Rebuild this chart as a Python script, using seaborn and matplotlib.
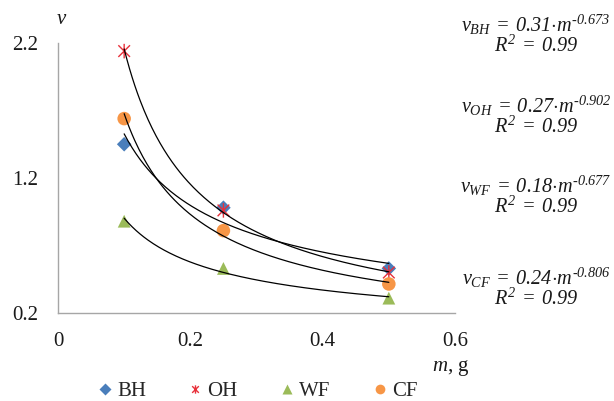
import numpy as np
import pandas as pd
import matplotlib
matplotlib.use("Agg")
import matplotlib.pyplot as plt
from matplotlib.path import Path
from matplotlib.lines import Line2D
import seaborn as sns

# Measured specific values at each sample mass
mass = [0.1, 0.25, 0.5]
series = ["BH", "OH", "WF", "CF"]
v_bh = [1.45, 0.98, 0.53]
v_oh = [2.14, 0.96, 0.50]
v_wf = [0.88, 0.53, 0.31]
v_cf = [1.64, 0.81, 0.415]

# Power-law fit equations shown beside the plot
eq_coef = ["0.31", "0.27", "0.18", "0.24"]
eq_exp = ["-0.673", "-0.902", "-0.677", "-0.806"]
eq_r2 = ["0.99", "0.99", "0.99", "0.99"]

x_ticks = [0, 0.2, 0.4, 0.6]
x_tick_labels = ["0", "0.2", "0.4", "0.6"]
y_ticks = [0.2, 1.2, 2.2]
y_tick_labels = ["0.2", "1.2", "2.2"]

sns.set_theme(style="white")
plt.rcParams["font.family"] = ["Liberation Serif", "DejaVu Serif"]
plt.rcParams["mathtext.fontset"] = "custom"
plt.rcParams["mathtext.rm"] = "Liberation Serif:italic"
plt.rcParams["mathtext.it"] = "Liberation Serif:italic"
plt.rcParams["mathtext.bf"] = "Liberation Serif:bold:italic"

TXT = "#1a1a1a"
W, H = 614, 401
fig = plt.figure(figsize=(W / 100, H / 100), dpi=100)
ax = fig.add_axes([58 / W, 1 - 313 / H, (455 - 58) / W, (313 - 43) / H])

# asterisk marker: an x crossed by a vertical stroke
star = Path(
    [(-1, -1), (1, 1), (-1, 1), (1, -1), (0, -1.25), (0, 1.25)],
    [Path.MOVETO, Path.LINETO, Path.MOVETO, Path.LINETO, Path.MOVETO, Path.LINETO],
)

values = {"BH": v_bh, "OH": v_oh, "WF": v_wf, "CF": v_cf}
colors = {"BH": "#4A7EBB", "OH": "#E8303A", "WF": "#9BBB59", "CF": "#F79646"}
markers = {"BH": "D", "OH": star, "WF": "^", "CF": "o"}
sizes = {"BH": 55, "OH": 110, "WF": 85, "CF": 95}

# power-law trend lines fitted in log-log space
for name in series:
    b, ln_a = np.polyfit(np.log(mass), np.log(values[name]), 1)
    xs = np.linspace(mass[0], mass[-1], 200)
    fit = pd.DataFrame({"m": xs, "v": np.exp(ln_a) * xs ** b})
    sns.lineplot(data=fit, x="m", y="v", ax=ax, color="black", lw=0.9, zorder=3)

for name in series:
    df = pd.DataFrame({"m": mass, "v": values[name]})
    if name == "OH":
        sns.scatterplot(data=df, x="m", y="v", ax=ax, marker=star, s=sizes[name],
                        facecolor="none", edgecolor=colors[name], linewidth=1.0, zorder=2)
    else:
        sns.scatterplot(data=df, x="m", y="v", ax=ax, marker=markers[name], s=sizes[name],
                        color=colors[name], edgecolor="none", linewidth=0, zorder=2)

ax.set_xlim(0, 0.6)
ax.set_ylim(0.2, 2.2)
ax.set_xticks(x_ticks)
ax.set_xticklabels(x_tick_labels)
ax.set_yticks(y_ticks)
ax.set_yticklabels(y_tick_labels)
ax.set_xlabel("")
ax.set_ylabel("")
for side in ["top", "right"]:
    ax.spines[side].set_visible(False)
for side in ["left", "bottom"]:
    ax.spines[side].set_color("#A6A6A6")
    ax.spines[side].set_linewidth(1.0)
ax.tick_params(axis="both", which="major", direction="out", length=4.5, width=1.0,
               color="#A6A6A6", labelsize=15, labelcolor=TXT)
ax.tick_params(axis="y", pad=10)
ax.tick_params(axis="x", pad=9)
ax.grid(False)

# axis titles
fig.text(62 / W, 1 - 20 / H, r"$v$", fontsize=15, ha="center", va="center", color=TXT)
fig.text(470 / W, 1 - 368 / H, r"$m$, g", fontsize=15, ha="right", va="center", color=TXT)

# fit equations (exponent written with a plain hyphen)
eq_y = [22, 103, 183, 275]
for name, c, e, r2, yp in zip(series, eq_coef, eq_exp, eq_r2, eq_y):
    exp_txt = e.replace("-", "\u2010")
    eq = r"$v_{%s}\:=\:%s{\cdot}m^{%s}$" % (name, c, exp_txt)
    fig.text(536 / W, 1 - (yp + 3) / H, eq, fontsize=14.6, ha="center", va="center", color=TXT)
    fig.text(536 / W, 1 - (yp + 24) / H, r"$R^{2}\:=\:%s$" % r2,
             fontsize=14.6, ha="center", va="center", color=TXT)

# legend along the bottom
handles = []
for name in series:
    if name == "OH":
        h = Line2D([], [], linestyle="none", marker=star, markersize=6,
                   markerfacecolor="none", markeredgecolor=colors[name], markeredgewidth=1.0)
    else:
        h = Line2D([], [], linestyle="none", marker=markers[name],
                   markersize=7 if name != "BH" else 6,
                   markerfacecolor=colors[name], markeredgecolor="none")
    handles.append(h)
fig.legend(handles, series, loc="center", bbox_to_anchor=(258 / W, 1 - 391 / H), ncol=4,
           frameon=False, fontsize=15, handlelength=0.6, handletextpad=0.3,
           columnspacing=2.05, borderaxespad=0)

fig.savefig("out.png", dpi=100)
